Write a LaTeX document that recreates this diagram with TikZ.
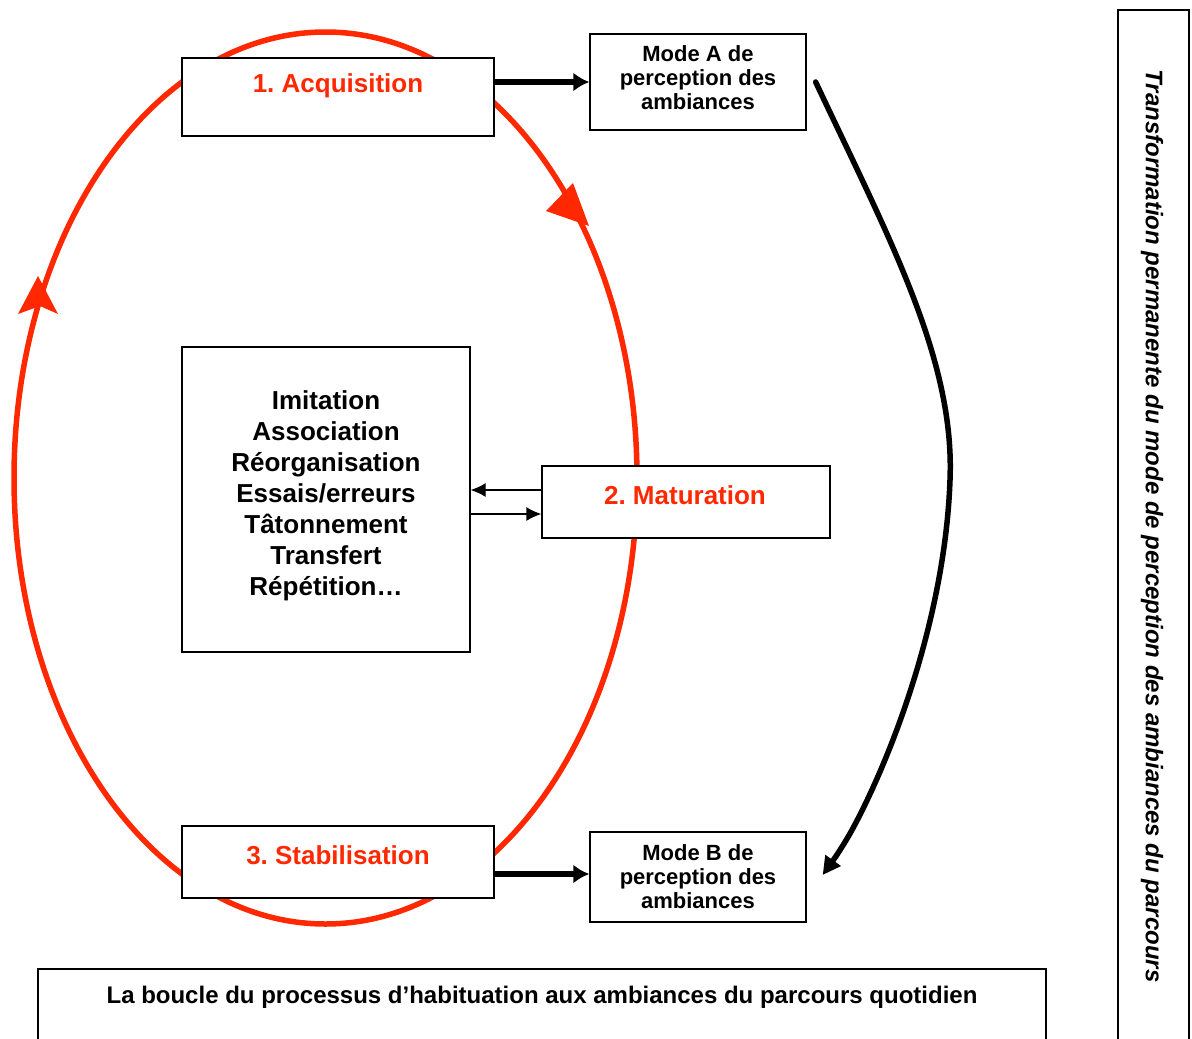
\documentclass[tikz,border=0pt]{standalone}
\usepackage{fontspec}
\setmainfont{Liberation Sans}
\usetikzlibrary{arrows.meta}
\definecolor{hred}{RGB}{255,40,0}
\frenchspacing
\begin{document}
\begin{tikzpicture}[x=1pt,y=-1pt,
  box/.style={draw=black,line width=1.3pt,fill=white,inner sep=0pt},
  bigtxt/.style={font=\fontsize{26}{31}\selectfont\bfseries,align=center,inner sep=0pt},
  redtxt/.style={bigtxt,text=hred},
  smalltxt/.style={font=\fontsize{22}{24}\selectfont\bfseries,align=center,inner sep=0pt},
  thickarrow/.style={line width=5.5pt,-{Latex[length=16pt,width=19pt]}},
  thinarrow/.style={line width=1.3pt,-{Latex[length=15pt,width=14pt]}},
  loop/.style={draw=hred,line width=5.5pt},
  redhead/.style={fill=hred}
]
\useasboundingbox (0,0) rectangle (1192,1039);

% the red loop
\path[loop] (325.5,478) ellipse [x radius=311.5, y radius=446];
\fill[redhead] (589,226) -- (546,211) -- (573,183) -- cycle;
\fill[redhead] (38,276) -- (58,314) -- (40,306) -- (18,314) -- cycle;

% boxes
\node[box,minimum width=312pt,minimum height=78pt] (acq) at (338,97) {};
\node[redtxt] (acqt) at (338,86) {1. Acquisition};

\node[box,minimum width=216pt,minimum height=96pt] (modeA) at (698,82) {};
\node[smalltxt] (modeAt) at (698,78) {Mode A de\\perception des\\ambiances};

\node[box,minimum width=288pt,minimum height=305pt] (ctr) at (326,499.5) {};
\node[bigtxt] (ctrt) at (326,496) {Imitation\\Association\\Réorganisation\\Essais/erreurs\\Tâtonnement\\Transfert\\Répétition…};

\node[box,minimum width=288pt,minimum height=72pt] (mat) at (686,502) {};
\node[redtxt] (matt) at (685,495) {2. Maturation};

\node[box,minimum width=312pt,minimum height=72pt] (stab) at (338,862) {};
\node[redtxt] (stabt) at (338,855) {3. Stabilisation};

\node[box,minimum width=216pt,minimum height=90pt] (modeB) at (698,877) {};
\node[smalltxt] (modeBt) at (698,877) {Mode B de\\perception des\\ambiances};

% connectors
\draw[thickarrow] (acq.east |- modeA.west) -- (modeA.west);
\draw[thickarrow] ([yshift=3pt]stab.east |- modeB.west) -- ([yshift=3pt]modeB.west);

\coordinate (m1) at ([yshift=12pt]mat.west);
\coordinate (m2) at ([yshift=-12pt]mat.west);
\draw[thinarrow] (m1) -- (m1 -| ctr.east);
\draw[thinarrow] (m2 -| ctr.east) -- (m2);

\coordinate (cs) at ([xshift=9pt]modeA.east);
\coordinate (ce) at ([xshift=16pt,yshift=2pt]modeB.east);
\draw[line width=5.5pt,line cap=round,-{Triangle[length=18pt,width=18pt]}]
  (cs) .. controls (890,240) and (955,360) .. (950,480)
       .. controls (945,620) and (890,760) .. (852,830)
       .. controls (842,848) and (832,862) .. (ce);

% bottom caption box (cut by the page edge)
\draw[line width=1.3pt] (38,1045) -- (38,969) -- (1046,969) -- (1046,1045);
\node[font=\fontsize{24}{28}\selectfont\bfseries,inner sep=0pt] (cap) at (542,997) {La boucle du processus d’habituation aux ambiances du parcours quotidien};

% right box (cut by the page edge)
\draw[line width=1.3pt] (1118,1045) -- (1118,10) -- (1189,10) -- (1189,1045);
\node[font=\fontsize{24}{28}\selectfont\bfseries\itshape,inner sep=0pt,rotate=-90] (side) at (1152,526) {Transformation permanente du mode de perception des ambiances du parcours};
\end{tikzpicture}
\end{document}
